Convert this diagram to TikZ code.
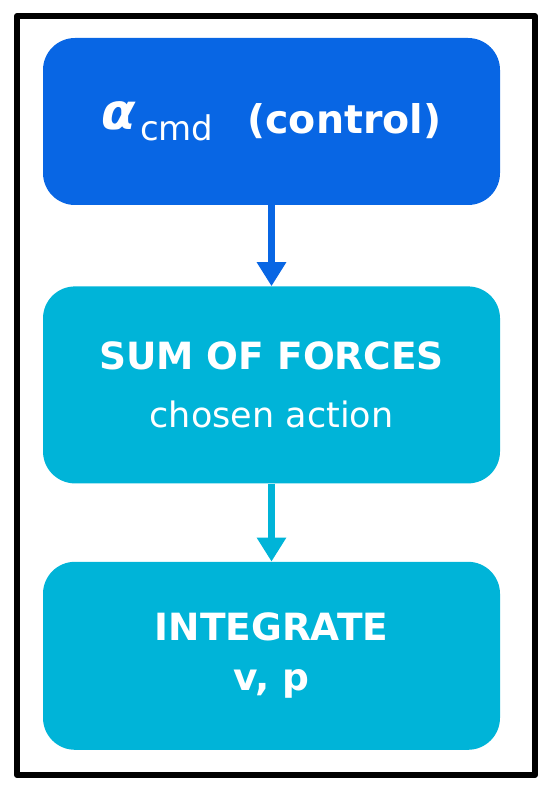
\documentclass[tikz,border=0pt]{standalone}
\usepackage{fontspec}
\setmainfont{DejaVu Sans}
\usetikzlibrary{positioning,arrows.meta}
\definecolor{cmdblue}{RGB}{8,102,228}
\definecolor{stepcyan}{RGB}{0,180,216}

\begin{document}
\begin{tikzpicture}[x=1pt,y=-1pt,line join=round,>={Triangle[width=28pt,length=24pt]},
  every node/.style={inner sep=0pt},
  block/.style={rounded corners=32pt,minimum width=457pt,text=white,align=center},
  link/.style={->,line width=7pt}]
  \useasboundingbox (0,0) rectangle (550,794);
  \draw[line width=6pt] (17,16) rectangle (535,775);
  \node[block,fill=cmdblue,minimum height=167pt] (cmd) at (271.5,121.5)
    {\raisebox{-5pt}{\raisebox{4pt}{\fontsize{50}{50}\selectfont\bfseries\itshape α}\hspace{4pt}\raisebox{-7pt}{\fontsize{34}{34}\selectfont cmd}\hspace{34pt}{\fontsize{39.5}{40}\selectfont\bfseries (control)}}};
  \node[block,fill=stepcyan,minimum height=197pt,below=81pt of cmd,font=\fontsize{37.5}{58}\selectfont] (forces)
    {\raisebox{-4pt}{\bfseries SUM OF FORCES}\\\raisebox{-4pt}{\fontsize{35}{58}\selectfont chosen action}};
  \node[block,fill=stepcyan,minimum height=188pt,below=78pt of forces,font=\fontsize{37.5}{50}\selectfont\bfseries] (integ)
    {INTEGRATE\\v, p};
  \draw[link,cmdblue] (cmd) -- (forces);
  \draw[link,stepcyan] (forces) -- (integ);
\end{tikzpicture}
\end{document}
